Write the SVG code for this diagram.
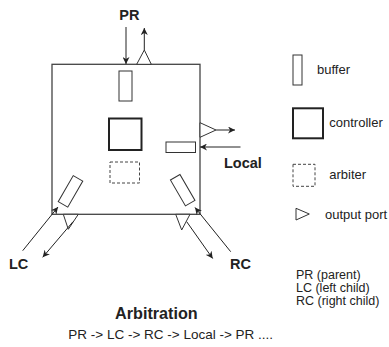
<svg xmlns="http://www.w3.org/2000/svg" width="389" height="347" viewBox="0 0 389 347">
<style>
  .box{fill:#fff;stroke:#444;stroke-width:1.3}
  .buf{fill:#fff;stroke:#333;stroke-width:1}
  .ctl{fill:#fff;stroke:#222;stroke-width:2}
  .arb{fill:none;stroke:#444;stroke-width:1;stroke-dasharray:3,2}
  .port{fill:#fff;stroke:#333;stroke-width:1}
  .conn{stroke:#222;stroke-width:1;fill:none;marker-end:url(#ah)}
  .lbl{font-family:"Liberation Sans",Arial,sans-serif;font-weight:bold;font-size:14.5px;fill:#222}
  .txt{font-family:"Liberation Sans",Arial,sans-serif;font-size:13px;fill:#222}
  .key{font-family:"Liberation Sans",Arial,sans-serif;font-size:12.5px;fill:#222}
</style>
<defs>
  <marker id="ah" viewBox="0 0 10 10" refX="10" refY="5" markerWidth="8" markerHeight="7" markerUnits="userSpaceOnUse" orient="auto">
    <path d="M0,0 L10,5 L0,10 L3,5 z" fill="#222"/>
  </marker>
</defs>

<g id="router">
  <rect class="box" x="52" y="64.3" width="148" height="150"/>
</g>
<g id="buffer-pr"><rect class="buf" x="119" y="71" width="13" height="30"/></g>
<g id="buffer-local"><rect class="buf" x="166" y="142" width="29.5" height="10.5"/></g>
<g id="buffer-lc"><rect class="buf" x="-5.5" y="-15" width="11" height="30" transform="translate(70.5,191.4) rotate(30)"/></g>
<g id="buffer-rc"><rect class="buf" x="-5.5" y="-15" width="11" height="30" transform="translate(182.7,190.2) rotate(-30)"/></g>
<g id="controller"><rect class="ctl" x="109" y="118.5" width="32.5" height="31.5"/></g>
<g id="arbiter"><rect class="arb" x="110" y="162" width="29.5" height="21"/></g>
<g id="port-pr"><polygon class="port" points="136.7,64.3 151.3,64.3 144.3,50"/></g>
<g id="port-local"><polygon class="port" points="200,122.7 200,137.3 216,130"/></g>
<g id="port-lc"><polygon class="port" points="63.3,214.3 78.3,214.3 68.3,229.3"/></g>
<g id="port-rc"><polygon class="port" points="175.7,214.3 190,214.3 181.7,230"/></g>

<g id="connectors">
  <line class="conn" x1="126" y1="27" x2="126" y2="64"/>
  <line class="conn" x1="144.3" y1="50" x2="144.3" y2="28"/>
  <line class="conn" x1="216" y1="130" x2="235" y2="130"/>
  <line class="conn" x1="240.5" y1="147" x2="200" y2="147"/>
  <line class="conn" x1="22.7" y1="250.7" x2="58" y2="207"/>
  <line class="conn" x1="73" y1="221.7" x2="42.7" y2="257.3"/>
  <line class="conn" x1="230.7" y1="251.7" x2="195" y2="207.5"/>
  <line class="conn" x1="186.7" y1="221.7" x2="212.7" y2="258.5"/>
</g>

<g id="labels">
  <text class="lbl" x="119.3" y="19.5">PR</text>
  <text class="lbl" x="224" y="168.3">Local</text>
  <text class="lbl" x="9" y="268.5">LC</text>
  <text class="lbl" x="230" y="268.5">RC</text>
</g>

<g id="legend">
  <rect class="buf" x="293" y="55" width="9" height="30"/>
  <text class="txt" x="317" y="74">buffer</text>
  <rect class="ctl" x="293" y="108.3" width="30" height="30"/>
  <text class="txt" x="329.3" y="127">controller</text>
  <rect class="arb" x="293" y="164.3" width="22" height="22"/>
  <text class="txt" x="329.3" y="178.5">arbiter</text>
  <polygon class="port" points="296,208.3 296,220 309.3,214"/>
  <text class="txt" x="325" y="218.5">output port</text>
  <text class="key" x="296" y="278.5">PR (parent)</text>
  <text class="key" x="296" y="291.8">LC (left child)</text>
  <text class="key" x="296" y="305.1">RC (right child)</text>
</g>

<g id="arbitration">
  <text x="115" y="319.3" style="font-family:'Liberation Sans',Arial,sans-serif;font-weight:bold;font-size:16.2px;fill:#222">Arbitration</text>
  <text x="68.3" y="338.5" style="font-family:'Liberation Sans',Arial,sans-serif;font-size:13.5px;fill:#222">PR -&gt; LC -&gt; RC -&gt; Local -&gt; PR ....</text>
</g>
</svg>
